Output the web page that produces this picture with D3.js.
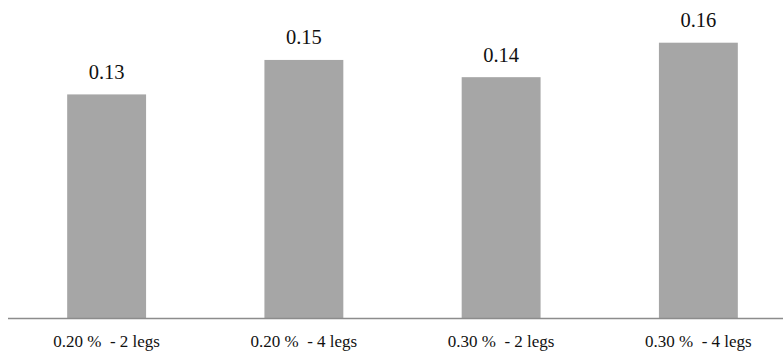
<!DOCTYPE html>
<html>
<head>
<meta charset="utf-8">
<script src="https://cdn.jsdelivr.net/npm/d3@7"></script>
<style>
  html, body { margin: 0; padding: 0; background: #fff; }
  svg { display: block; }
</style>
</head>
<body>
<svg id="chart" width="783" height="351"></svg>
<script>
const categories = ["0.20 %  - 2 legs", "0.20 %  - 4 legs", "0.30 %  - 2 legs", "0.30 %  - 4 legs"];
const values = [0.13, 0.15, 0.14, 0.16];

const svg = d3.select("#chart");
const baseY = 318.5;
const FONT = "'Liberation Serif', Times, serif";

const x = d3.scaleBand()
  .domain(categories)
  .range([8, 797])
  .paddingInner(0.6)
  .paddingOuter(0.3);

const y = d3.scaleLinear()
  .domain([0, 0.16])
  .range([baseY, 42.7]);

svg.append("g")
  .selectAll("rect")
  .data(values)
  .join("rect")
  .attr("x", (d, i) => x(categories[i]))
  .attr("y", d => y(d))
  .attr("width", x.bandwidth())
  .attr("height", d => baseY - y(d))
  .attr("fill", "#a6a6a6");

svg.append("g")
  .selectAll("text")
  .data(values)
  .join("text")
  .attr("x", (d, i) => x(categories[i]) + x.bandwidth() / 2)
  .attr("y", d => y(d) - 15.5)
  .attr("text-anchor", "middle")
  .style("font-family", FONT)
  .style("font-size", "20.5px")
  .attr("fill", "#111")
  .text(d => d3.format(".2f")(d));

const axis = svg.append("g").attr("transform", `translate(0,${baseY})`);
axis.append("line")
  .attr("x1", 8).attr("x2", 783)
  .attr("y1", 0).attr("y2", 0)
  .attr("stroke", "#8c8c8c")
  .attr("stroke-width", 1.5);

axis.selectAll("text")
  .data(categories)
  .join("text")
  .attr("x", d => x(d) + x.bandwidth() / 2)
  .attr("y", 28.5)
  .attr("text-anchor", "middle")
  .style("font-family", FONT)
  .style("font-size", "17px")
  .attr("fill", "#111")
  .style("white-space", "pre")
  .text(d => d);
</script>
</body>
</html>
